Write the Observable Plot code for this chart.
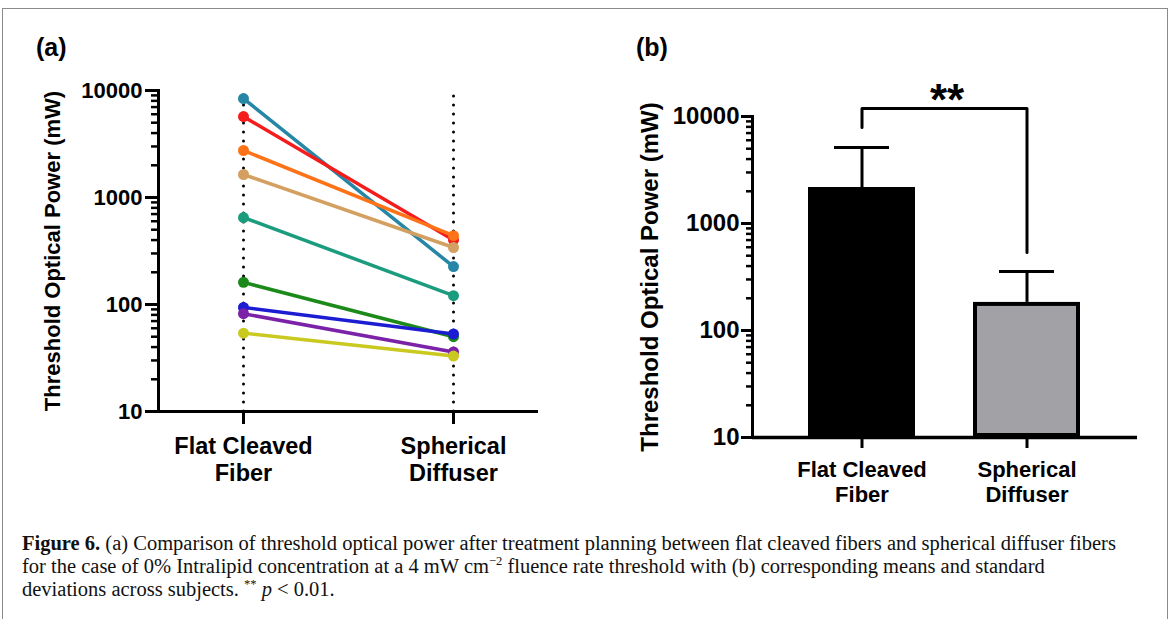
<!DOCTYPE html>
<html>
<head>
<meta charset="utf-8">
<script src="https://cdn.jsdelivr.net/npm/d3@7"></script>
<script src="https://cdn.jsdelivr.net/npm/@observablehq/plot@0.6"></script>
<style>
  html, body { margin: 0; padding: 0; background: #fff; }
  #page { position: relative; width: 1173px; height: 619px; overflow: hidden; background: #fff; }
  #border { position: absolute; left: 2px; top: 8px; width: 1166px; height: 640px; border: 1.5px solid #8a8a8a; box-sizing: border-box; }
  .panel { position: absolute; top: 0; }
  .plabel { position: absolute; font-family: "Liberation Sans", Arial, sans-serif; font-weight: bold; font-size: 25px; color: #000; }
  #caption { position: absolute; left: 22px; top: 532px; width: 1146px; font-family: "Liberation Serif", "Times New Roman", serif; font-size: 20.5px; line-height: 23px; color: #111; white-space: nowrap; }
  #caption sup { font-size: 12.5px; line-height: 0; }
</style>
</head>
<body>
<div id="page">
  <div id="border"></div>
  <div id="panelA" class="panel" style="left:0px"></div>
  <div id="panelB" class="panel" style="left:580px"></div>
  <div class="plabel" style="left:36px; top:33px">(a)</div>
  <div class="plabel" style="left:636px; top:33px">(b)</div>
  <div id="caption"><b>Figure 6.</b> (a) Comparison of threshold optical power after treatment planning between flat cleaved fibers and spherical diffuser fibers<br>for the case of 0% Intralipid concentration at a 4 mW cm<sup>−2</sup> fluence rate threshold with (b) corresponding means and standard<br>deviations across subjects. <sup>**</sup> <i>p</i> &lt; 0.01.</div>
</div>
<script>
// ---- data ----
const categories = ["Flat Cleaved Fiber", "Spherical Diffuser"];
const tickLabels = ["Flat Cleaved\nFiber", "Spherical\nDiffuser"];
const subjects = ["S1", "S2", "S3", "S4", "S5", "S6", "S7", "S8", "S9"];
const flatValues = [8400, 5700, 2750, 1640, 650, 161, 94, 82, 54];
const sphericalValues = [226, 400, 440, 341, 121, 50, 53, 36, 33];
const subjectColors = ["#2586a6", "#f51c1c", "#ff7318", "#d3a062", "#1c9c7e", "#1b8a1b", "#1c1cd2", "#7b22a8", "#c9c91f"];
const meanValues = [2170, 183];
const meanPlusSD = [5130, 356];
const barColors = ["#000000", "#a2a2a6"];
const majorTicks = [10, 100, 1000, 10000];
const minorTicks = [20,30,40,50,60,70,80,90,200,300,400,500,600,700,800,900,2000,3000,4000,5000,6000,7000,8000,9000];
const bracketY = [7900, 11900, 11900, 536];
const bracketX = [categories[0], categories[0], categories[1], categories[1]];
const sigLabel = "**";
const sigY = 14000;
const yLabel = "Threshold Optical Power (mW)";

const rows = [];
subjects.forEach((s, i) => {
  rows.push({subject: s, fiber: categories[0], value: flatValues[i], color: subjectColors[i]});
  rows.push({subject: s, fiber: categories[1], value: sphericalValues[i], color: subjectColors[i]});
});
const bars = categories.map((c, i) => ({fiber: c, mean: meanValues[i], upper: meanPlusSD[i], color: barColors[i]}));
const bracket = bracketX.map((x, i) => ({x, y: bracketY[i]}));

const font = {fontFamily: "Liberation Sans, Arial, sans-serif", fontWeight: "bold", fontSize: "22px", color: "#000", background: "transparent", overflow: "visible"};
const fmt = d => tickLabels[categories.indexOf(d)];

// ---- panel (a) ----
const plotA = Plot.plot({
  width: 580, height: 505,
  marginLeft: 158, marginRight: 42, marginTop: 90, marginBottom: 94,
  style: font,
  color: {type: "identity"},
  x: {type: "point", domain: categories, range: [243, 453], padding: 0},
  y: {type: "log", domain: [10, 10000], range: [411, 90]},
  marks: [
    Plot.ruleX(categories, {x: d => d, y1: 10, y2: 10000, stroke: "#000", strokeWidth: 3, strokeDasharray: "0,9", strokeLinecap: "round"}),
    Plot.axisY(minorTicks, {tickSize: 7, strokeWidth: 2.5, tickFormat: () => "", label: null}),
    Plot.axisY(majorTicks, {tickSize: 13, strokeWidth: 3, tickPadding: 3, tickFormat: d => String(d), fontSize: 22,
      label: yLabel, labelAnchor: "center", labelArrow: "none", labelOffset: 114}),
    Plot.axisX({tickSize: 13, strokeWidth: 3, tickPadding: 11, tickFormat: fmt, lineHeight: 1.13, fontSize: 23.5, label: null}),
    Plot.frame({anchor: "left", strokeWidth: 3}),
    Plot.ruleY([10], {strokeWidth: 3}),
    Plot.line(rows, {x: "fiber", y: "value", z: "subject", stroke: "color", strokeWidth: 3.5}),
    Plot.dot(rows, {x: "fiber", y: "value", fill: "color", r: 5.5})
  ]
});
document.getElementById("panelA").appendChild(plotA);

// ---- panel (b) ----
const plotB = Plot.plot({
  width: 593, height: 545,
  marginLeft: 172, marginRight: 36, marginTop: 116, marginBottom: 108,
  style: font,
  color: {type: "identity"},
  x: {type: "band", domain: categories, range: [199.5, 529.5], paddingInner: 0.35, paddingOuter: 0.175},
  y: {type: "log", domain: [10, 10000], range: [437, 116]},
  marks: [
    Plot.barY(bars, {x: "fiber", y1: 10, y2: "mean", fill: "color", stroke: "#000", strokeWidth: 4, inset: 2}),
    Plot.ruleX(bars, {x: "fiber", y1: "mean", y2: "upper", strokeWidth: 3}),
    Plot.tickY(bars, {x: "fiber", y: "upper", strokeWidth: 3, insetLeft: 26, insetRight: 26}),
    Plot.axisY(minorTicks, {tickSize: 6, strokeWidth: 2.5, tickFormat: () => "", label: null}),
    Plot.axisY(majorTicks, {tickSize: 11, strokeWidth: 3, tickPadding: 2, tickFormat: d => String(d), fontSize: 24,
      label: yLabel, labelAnchor: "center", labelArrow: "none", labelOffset: 112}),
    Plot.axisX({tickSize: 11, strokeWidth: 3, tickPadding: 11, tickFormat: fmt, lineHeight: 1.14, fontSize: 22, label: null}),
    Plot.frame({anchor: "left", strokeWidth: 3}),
    Plot.ruleY([10], {strokeWidth: 3.5}),
    Plot.line(bracket, {x: "x", y: "y", strokeWidth: 3}),
    Plot.text([sigLabel], {x: () => categories[0], y: () => sigY, text: d => d, dx: 85, fontSize: 44, fontWeight: "bold"})
  ]
});
document.getElementById("panelB").appendChild(plotB);
</script>
</body>
</html>
